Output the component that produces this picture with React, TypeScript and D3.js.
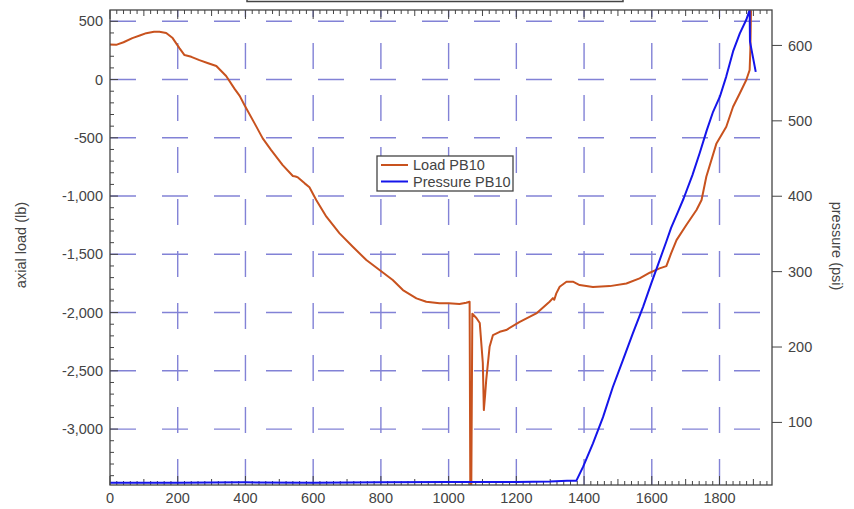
import React from "react";
import * as d3 from "d3";

const W = 854;
const H = 509;
const PLOT = { left: 110, right: 772, top: 10, bottom: 485 };

// Load PB10 (lb) against time
const loadX = [
  0, 18, 40, 66, 90, 107, 130, 146, 166, 185, 205, 220, 240, 264, 290, 314, 343, 368, 383, 397,
  427, 451, 476, 510, 540, 548, 555, 575, 589, 609, 639, 678, 717, 757, 796, 835, 865, 905, 934, 973,
  1000, 1032, 1052, 1062, 1064, 1067, 1070, 1082, 1092, 1101, 1104, 1108, 1111, 1121, 1131, 1151, 1170, 1210, 1259, 1298,
  1308, 1312, 1318, 1328, 1348, 1367, 1387, 1426, 1476, 1525, 1564, 1594, 1623, 1643, 1657, 1673, 1702, 1732, 1747, 1761,
  1791, 1820, 1840, 1860, 1879, 1889, 1891, 1893,
];
const loadY = [
  300, 298, 320, 356, 380, 398, 410, 410, 400, 356, 270, 210, 195, 167, 140, 116, 30, -80, -140, -219,
  -376, -505, -605, -734, -828, -832, -840, -891, -925, -1034, -1177, -1320, -1435, -1549, -1635, -1721, -1807, -1878, -1907, -1921,
  -1920, -1927, -1916, -1907, -3480, -3480, -2010, -2047, -2090, -2433, -2837, -2700, -2580, -2294, -2193, -2165, -2150, -2079, -2007, -1907,
  -1876, -1890, -1835, -1778, -1735, -1735, -1764, -1780, -1773, -1750, -1707, -1658, -1621, -1601, -1492, -1378, -1249, -1120, -1034, -834,
  -548, -405, -233, -118, -4, 82, 250, 595,
];

// Pressure PB10 (psi) against time
const pressureX = [
  0, 200, 400, 600, 800, 1000, 1200, 1300, 1350, 1377, 1397, 1426, 1456, 1485, 1515, 1544, 1574, 1599, 1623, 1643,
  1657, 1677, 1694, 1720, 1742, 1762, 1781, 1801, 1820, 1840, 1860, 1879, 1889, 1890, 1907,
];
const pressureY = [
  20, 20, 20.5, 20, 20.5, 21, 21, 21.5, 22.5, 22.5, 41, 72, 107, 147, 183, 218, 253, 285, 315, 340,
  358, 379, 397, 428, 458, 487, 512, 532, 559, 592, 616, 634, 647, 605, 565,
];

const xTicks = [0, 200, 400, 600, 800, 1000, 1200, 1400, 1600, 1800];
const loadTicks = [500, 0, -500, -1000, -1500, -2000, -2500, -3000];
const pressureTicks = [100, 200, 300, 400, 500, 600];
const seriesNames = ["Load PB10", "Pressure PB10"];
const leftTitle = "axial load (lb)";
const rightTitle = "pressure (psi)";

const ORANGE = "#c8521e";
const BLUE = "#1515ea";
const GRID = "#8282d6";
const AXIS = "#444";
const TEXT = "#444";
const FONT = "'Liberation Sans', Arial, sans-serif";

const fmt = (v: number) => d3.format(",")(v).replace("\u2212", "-");

export default function App() {
  const x = d3.scaleLinear().domain([0, 1955]).range([PLOT.left, PLOT.right]);
  const yL = d3.scaleLinear().domain([-3480, 597]).range([PLOT.bottom, PLOT.top]);
  const yR = d3.scaleLinear().domain([17, 647]).range([PLOT.bottom, PLOT.top]);

  const loadLine = d3
    .line<number>()
    .x((_, i) => x(loadX[i]))
    .y((d) => yL(d));
  const pressureLine = d3
    .line<number>()
    .x((_, i) => x(pressureX[i]))
    .y((d) => yR(d));

  const minorX = d3.range(0, 1955, 20);
  const minorL = d3.range(-3400, 600, 100);

  const xTickLen = (v: number) => (v % 200 === 0 ? 9 : v % 100 === 0 ? 6 : 4);

  return (
    <svg
      width={W}
      height={H}
      style={{ position: "absolute", left: 0, top: 0, background: "#fff", fontFamily: FONT }}
    >
      <defs>
        <clipPath id="plot-clip">
          <rect x={PLOT.left} y={PLOT.top} width={PLOT.right - PLOT.left} height={PLOT.bottom - PLOT.top} />
        </clipPath>
      </defs>

      {/* title box, mostly off the top edge */}
      <rect x={247} y={-12} width={376} height={13.5} fill="#fff" stroke={AXIS} strokeWidth={1.5} />

      {/* dashed grid */}
      <g stroke={GRID} strokeWidth={1.4} strokeDasharray="26 26">
        {xTicks
          .filter((v) => v > 0)
          .map((v) => (
            <line key={"gx" + v} x1={x(v)} x2={x(v)} y1={PLOT.bottom} y2={PLOT.top} />
          ))}
        {loadTicks.map((v) => (
          <line key={"gy" + v} x1={PLOT.left} x2={PLOT.right} y1={yL(v)} y2={yL(v)} />
        ))}
      </g>

      {/* inner ticks: bottom & top, left; outer ticks on the right */}
      <g stroke={AXIS} strokeWidth={1}>
        {minorX.map((v) => (
          <line key={"bt" + v} x1={x(v)} x2={x(v)} y1={PLOT.bottom} y2={PLOT.bottom - xTickLen(v)} />
        ))}
        {minorX.map((v) => (
          <line key={"tt" + v} x1={x(v)} x2={x(v)} y1={PLOT.top} y2={PLOT.top + xTickLen(v)} />
        ))}
        {minorL.map((v) => (
          <line
            key={"lt" + v}
            x1={PLOT.left}
            x2={PLOT.left + (v % 500 === 0 ? 8 : 4)}
            y1={yL(v)}
            y2={yL(v)}
          />
        ))}
        {pressureTicks.map((v) => (
          <line key={"rt" + v} x1={PLOT.right} x2={PLOT.right + 10} y1={yR(v)} y2={yR(v)} />
        ))}
      </g>

      {/* series */}
      <g clipPath="url(#plot-clip)" fill="none" strokeLinejoin="round">
        <path d={loadLine(loadY) || ""} stroke={ORANGE} strokeWidth={2} />
        <path d={pressureLine(pressureY) || ""} stroke={BLUE} strokeWidth={2} />
      </g>

      {/* frame */}
      <rect
        x={PLOT.left}
        y={PLOT.top}
        width={PLOT.right - PLOT.left}
        height={PLOT.bottom - PLOT.top}
        fill="none"
        stroke={AXIS}
        strokeWidth={1.3}
      />

      {/* tick labels */}
      <g fill={TEXT} fontSize={14.5}>
        {xTicks.map((v) => (
          <text key={"xl" + v} x={x(v)} y={503} textAnchor="middle">
            {v}
          </text>
        ))}
        {loadTicks.map((v) => (
          <text key={"ll" + v} x={103} y={yL(v)} dy="0.35em" textAnchor="end">
            {fmt(v)}
          </text>
        ))}
        {pressureTicks.map((v) => (
          <text key={"rl" + v} x={788} y={yR(v)} dy="0.35em" textAnchor="start">
            {v}
          </text>
        ))}
      </g>

      {/* axis titles */}
      <text
        transform={`translate(26,245) rotate(-90)`}
        textAnchor="middle"
        fill={TEXT}
        fontSize={14.5}
      >
        {leftTitle}
      </text>
      <text
        transform={`translate(832,246) rotate(90)`}
        textAnchor="middle"
        fill={TEXT}
        fontSize={14.5}
      >
        {rightTitle}
      </text>

      {/* legend */}
      <g>
        <rect x={377} y={156} width={136} height={35} fill="#fff" stroke={AXIS} strokeWidth={1.3} />
        {seriesNames.map((name, i) => (
          <g key={name}>
            <line
              x1={381}
              x2={408}
              y1={165 + i * 16.5}
              y2={165 + i * 16.5}
              stroke={i === 0 ? ORANGE : BLUE}
              strokeWidth={2}
            />
            <text x={413} y={165 + i * 16.5} dy="0.35em" fill={TEXT} fontSize={14.5}>
              {name}
            </text>
          </g>
        ))}
      </g>
    </svg>
  );
}
